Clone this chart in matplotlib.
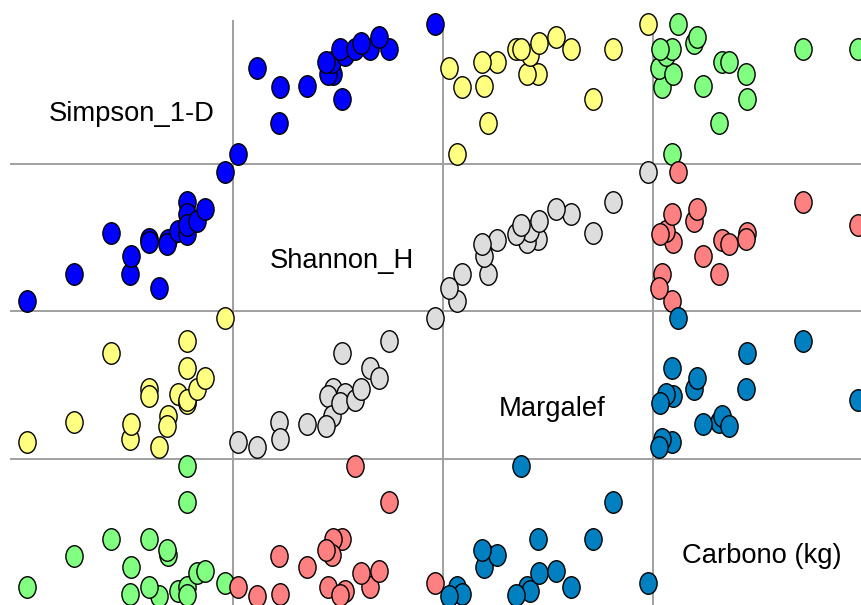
import matplotlib
matplotlib.use("Agg")
import matplotlib.pyplot as plt
from matplotlib.path import Path
from matplotlib.lines import Line2D

# Diversity indices and carbon stock for each of the 18 plots
simpson = [0.600, 0.671, 0.727, 0.756, 0.757, 0.799, 0.785, 0.784, 0.813,
           0.812, 0.828, 0.842, 0.842, 0.842, 0.842, 0.857, 0.870, 0.900]
shannon = [1.200, 1.495, 1.939, 1.500, 1.693, 1.340, 1.875, 1.842, 1.868,
           1.825, 1.963, 2.271, 2.140, 1.924, 2.031, 2.070, 2.203, 2.600]
margalef = [1.621, 2.084, 3.679, 1.696, 2.033, 1.500, 2.839, 2.678, 2.225,
            1.998, 2.723, 3.976, 3.342, 2.512, 2.587, 2.859, 3.108, 4.500]
carbono = [17.6, 65.3, 92.8, 7.5, 48.6, 5.0, 92.3, 18.3, 68.1,
           74.8, 11.6, 149.5, 18.1, 6.0, 205.0, 39.5, 42.8, 24.0]

labels = ["Simpson_1-D", "Shannon_H", "Margalef", "Carbono (kg)"]
data = [simpson, shannon, margalef, carbono]

# one colour per pair of variables (same colour above and below the diagonal)
pair_colors = {(0, 1): "#0000ff", (0, 2): "#ffff80", (0, 3): "#80ff80",
               (1, 2): "#dddddd", (1, 3): "#ff8080", (2, 3): "#0080c0"}

W, H = 862, 605
fig = plt.figure(figsize=(W / 100, H / 100), dpi=100)

# panel edges in pixels
col_edges = [22, 233, 443, 653, 863]
row_edges = [16, 164, 311, 459, 606]
# pixel spots where each variable's min and max land
x_span = [(27, 225.3), (237.7, 435.4), (449, 647.7), (659.5, 857.7)]
y_span = [(154, 24.3), (301.3, 172), (447, 318), (595.5, 466)]


def limits(vals, p0, p1, a, b):
    d0, d1 = min(vals), max(vals)
    k = (d1 - d0) / (p1 - p0)
    return d0 + (a - p0) * k, d0 + (b - p0) * k


# slightly tall oval markers
circ = Path.unit_circle()
oval = Path(circ.vertices * [0.8, 1.0], circ.codes)

for i in range(4):
    for j in range(4):
        L, R = col_edges[j], col_edges[j + 1]
        T, B = row_edges[i], row_edges[i + 1]
        ax = fig.add_axes([L / W, 1 - B / H, (R - L) / W, (B - T) / H])
        ax.axis("off")
        if i == j:
            ax.text(0.52, 0.34, labels[i], transform=ax.transAxes,
                    ha="center", va="center", fontsize=19.7,
                    family="Liberation Sans")
            continue
        ax.set_xlim(*limits(data[j], *x_span[j], L, R))
        ax.set_ylim(*limits(data[i], *y_span[i], B, T))
        c = pair_colors[(min(i, j), max(i, j))]
        ax.plot(data[j], data[i], ls="none", marker=oval, ms=15.5,
                mfc=c, mec="black", mew=1.0, clip_on=False)

# separating lines between the panels
for x in [233, 443, 653]:
    fig.add_artist(Line2D([x / W, x / W], [1 - 21 / H, 0], color="#a0a0a0",
                          lw=1.4, transform=fig.transFigure, zorder=-1))
for y in [164, 311, 459]:
    fig.add_artist(Line2D([11 / W, 1], [1 - y / H, 1 - y / H], color="#a0a0a0",
                          lw=1.4, transform=fig.transFigure, zorder=-1))

fig.savefig("out.png", dpi=100)
